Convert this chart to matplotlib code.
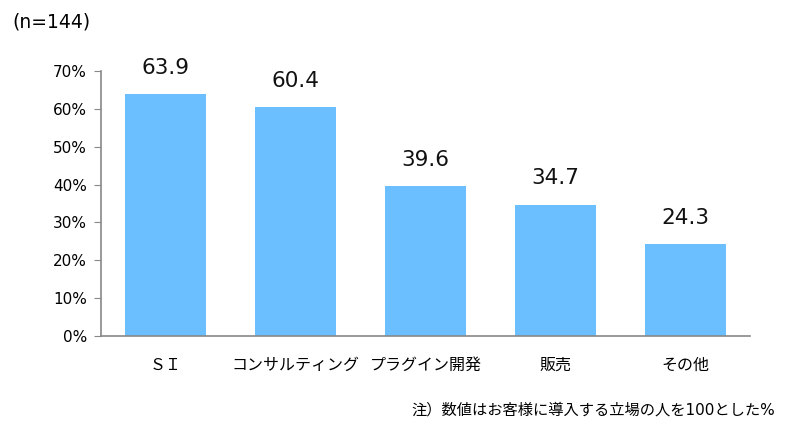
import matplotlib
matplotlib.use('Agg')
import matplotlib.pyplot as plt

plt.rcParams['font.family'] = ['DejaVu Sans', 'Noto Sans CJK JP']

categories = ['ＳＩ', 'コンサルティング', 'プラグイン開発', '販売', 'その他']
values = [63.9, 60.4, 39.6, 34.7, 24.3]
yticks = [0, 10, 20, 30, 40, 50, 60, 70]
ytick_labels = ['%d%%' % t for t in yticks]

fig = plt.figure(figsize=(8, 4.38), dpi=100)
ax = fig.add_axes([0.126, 0.233, 0.812, 0.605])

x = range(len(categories))
bars = ax.bar(x, values, width=0.62, color='#6BBFFF')
for i, v in enumerate(values):
    ax.text(i, v + 4.3, '%.1f' % v, ha='center', va='bottom', fontsize=15.5, color='#111111')

ax.set_xlim(-0.5, len(categories) - 0.5)
ax.set_ylim(0, 70)
ax.set_yticks(yticks)
ax.set_yticklabels(ytick_labels, fontsize=11)
ax.set_xticks(list(x))
ax.set_xticklabels(categories, fontsize=11.5)
ax.tick_params(axis='x', length=0, pad=16)
ax.tick_params(axis='y', length=5, color='#888888', pad=5)

for s in ['top', 'right']:
    ax.spines[s].set_visible(False)
for s in ['left', 'bottom']:
    ax.spines[s].set_color('#888888')
    ax.spines[s].set_linewidth(1.2)

fig.text(0.015, 0.95, '(n=144)', fontsize=13.5, va='center', ha='left')
fig.text(0.969, 0.063, '注）数値はお客様に導入する立場の人を100とした%', fontsize=11, ha='right', va='center')

fig.savefig('out.png', dpi=100)
